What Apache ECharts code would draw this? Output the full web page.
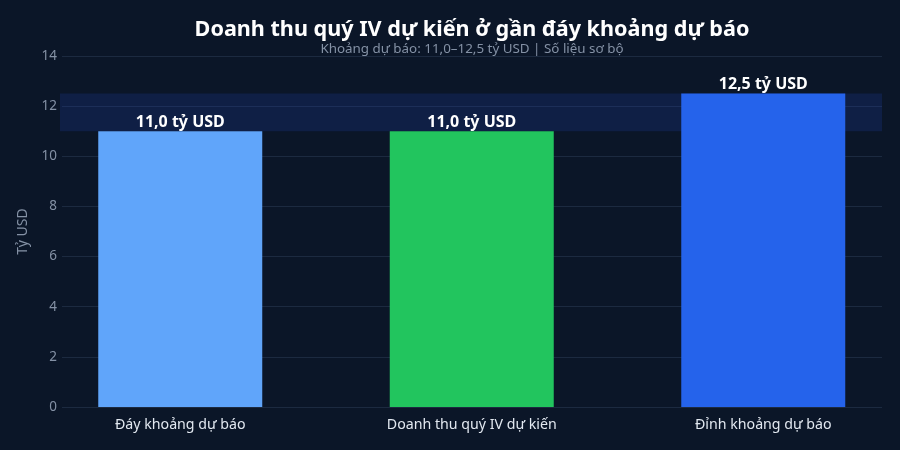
<!DOCTYPE html>
<html><head><meta charset="utf-8">
<script src="https://cdn.jsdelivr.net/npm/echarts@6/dist/echarts.min.js"></script>
<style>html,body{margin:0;padding:0;background:#0b1628;}#c{width:900px;height:450px;}</style>
</head><body><div id="c"></div>
<script>
const categories = ['Đáy khoảng dự báo', 'Doanh thu quý IV dự kiến', 'Đỉnh khoảng dự báo'];
const values = [11.0, 11.0, 12.5];
const barColors = ['#60a5fa', '#22c55e', '#2563eb'];
const bandRange = [11.0, 12.5];
const yTicks = [0, 2, 4, 6, 8, 10, 12, 14];

const font = '"Noto Sans", "Open Sans", sans-serif';
const chart = echarts.init(document.getElementById('c'));
chart.setOption({
  backgroundColor: '#0b1628',
  animation: false,
  title: [{
    text: 'Doanh thu quý IV dự kiến ở gần đáy khoảng dự báo',
    left: 467, top: 14, textAlign: 'center',
    textStyle: {color: '#ffffff', fontSize: 21.6, fontWeight: 'bold', fontFamily: font}
  }, {
    text: 'Khoảng dự báo: 11,0–12,5 tỷ USD | Số liệu sơ bộ',
    left: 467, top: 38, textAlign: 'center',
    textStyle: {color: '#8491a5', fontSize: 13.4, fontWeight: 'normal', fontFamily: font}
  }],
  grid: [
    {left: 62, right: 18, top: 56, bottom: 43, outerBoundsMode: 'none'},
    {left: 34.5, width: 874.5, top: 56, bottom: 43, outerBoundsMode: 'none'}
  ],
  xAxis: [
    {gridIndex: 0, type: 'value', min: 0, max: 1, show: false},
    {gridIndex: 1, type: 'category', data: categories,
     axisLine: {show: false}, axisTick: {show: false},
     axisLabel: {color: '#e2e8f0', fontSize: 14.2, fontFamily: font, margin: 11}}
  ],
  yAxis: [
    {gridIndex: 0, type: 'value', min: 0, max: 14, interval: 2,
     name: 'Tỷ USD', nameLocation: 'middle', nameGap: 32, nameRotate: 90,
     nameTextStyle: {color: '#8491a5', fontSize: 14, fontFamily: font},
     axisLine: {show: false}, axisTick: {show: false},
     axisLabel: {color: '#8491a5', fontSize: 13.5, fontFamily: font, margin: 5},
     splitLine: {lineStyle: {color: '#1c2a40', width: 1}}},
    {gridIndex: 1, type: 'value', min: 0, max: 14, interval: 2, show: false, splitLine: {show: false}}
  ],
  series: [
    {type: 'line', xAxisIndex: 0, yAxisIndex: 0, data: [], silent: true,
     markArea: {silent: true, itemStyle: {color: 'rgba(30,64,175,0.22)'},
       data: [[{yAxis: bandRange[0], x: 60}, {yAxis: bandRange[1], x: 882}]]}},
    {type: 'bar', xAxisIndex: 1, yAxisIndex: 1, barWidth: 164, z: 3,
     data: values.map((v, i) => ({value: v, itemStyle: {color: barColors[i]}})),
     label: {show: true, position: 'top', distance: 1, color: '#ffffff', fontSize: 16, fontWeight: 'bold', fontFamily: font,
       formatter: p => p.value.toFixed(1).replace('.', ',') + ' tỷ USD'}}
  ]
});
</script></body></html>
